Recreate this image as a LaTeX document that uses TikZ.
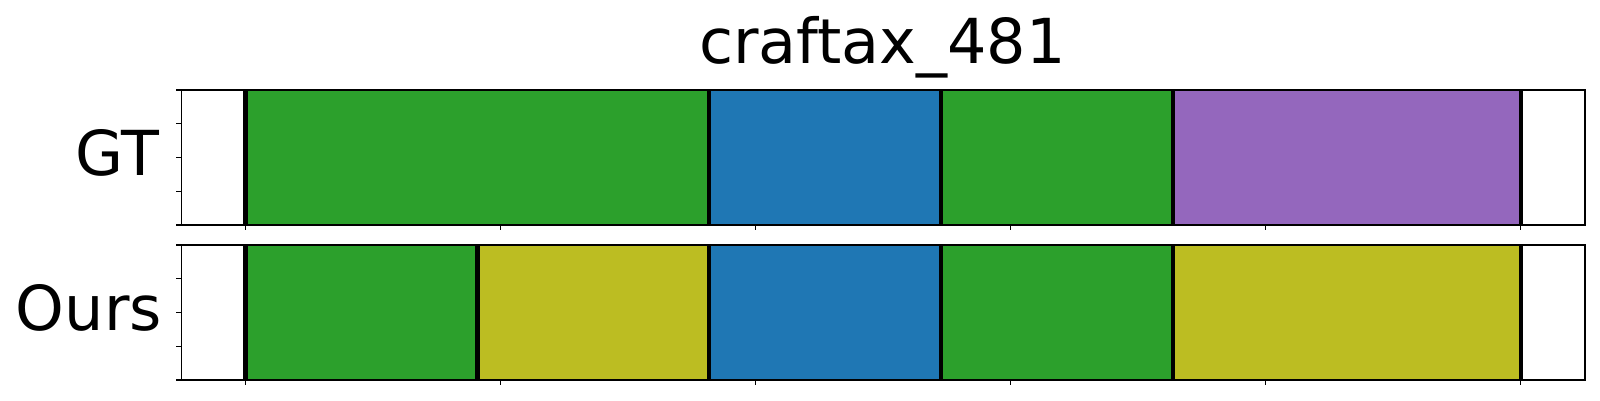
\documentclass[tikz,border=0pt]{standalone}
\usepackage{fontspec}
\setmainfont{DejaVu Sans}
\definecolor{tabgreen}{HTML}{2CA02C}
\definecolor{tabblue}{HTML}{1F77B4}
\definecolor{tabpurple}{HTML}{9467BD}
\definecolor{tabolive}{HTML}{BCBD22}
\tikzset{
  bound/.style={line width=4.2pt, black},
  frame/.style={line width=1.1pt, black},
  tickmark/.style={line width=1.1pt, black},
  bigtext/.style={inner sep=0pt, font=\fontsize{62}{62}\selectfont}
}
\begin{document}
\begin{tikzpicture}[x=1pt,y=-1pt]
\useasboundingbox (0,0) rectangle (1600,400);
\fill[white] (0,0) rectangle (1600,400);
% --- title ---
\node[bigtext, anchor=base] (title) at (882.5,63.3) {craftax\_481};
% --- labels ---
\node[bigtext, anchor=base east] (gtlabel) at (159.5,175) {GT};
\node[bigtext, anchor=base east] (ourslabel) at (162,330) {Ours};
% --- GT segments (y 90..225) ---
\fill[tabgreen]  (245.5,90) rectangle (709.3,225);
\fill[tabblue]   (709.3,90) rectangle (941.2,225);
\fill[tabgreen]  (941.2,90) rectangle (1173.1,225);
\fill[tabpurple] (1173.1,90) rectangle (1521,225);
\foreach \x in {245.5,709.3,941.2,1173.1,1521}
  \draw[bound] (\x,90) -- (\x,225);
% --- Ours segments (y 245..380) ---
\fill[tabgreen]  (245.5,245) rectangle (477.4,380);
\fill[tabolive]  (477.4,245) rectangle (709.3,380);
\fill[tabblue]   (709.3,245) rectangle (941.2,380);
\fill[tabgreen]  (941.2,245) rectangle (1173.1,380);
\fill[tabolive]  (1173.1,245) rectangle (1521,380);
\foreach \x in {245.5,477.4,709.3,941.2,1173.1,1521}
  \draw[bound] (\x,245) -- (\x,380);
% --- frames ---
\draw[frame] (181.3,90) rectangle (1585,225);
\draw[frame] (181.3,245) rectangle (1585,380);
% --- y ticks ---
\foreach \y in {90,123.75,157.5,191.25,225,245,278.75,312.5,346.25,380}
  \draw[tickmark] (176.4,\y) -- (181.3,\y);
% --- x ticks ---
\foreach \k in {0,...,5}{
  \draw[tickmark] (245.5+255*\k,225) -- (245.5+255*\k,229.9);
  \draw[tickmark] (245.5+255*\k,380) -- (245.5+255*\k,384.9);
}
\end{tikzpicture}
\end{document}
